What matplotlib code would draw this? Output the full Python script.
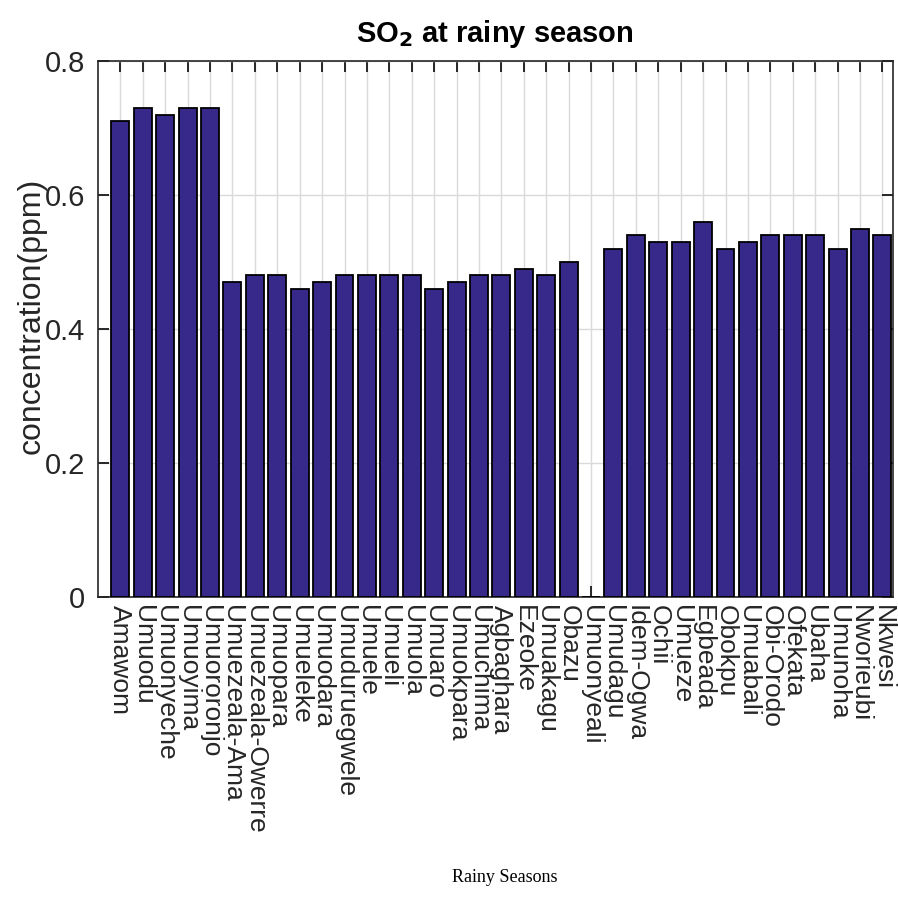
import matplotlib
matplotlib.use("Agg")
import matplotlib.pyplot as plt
import numpy as np

# SO2 concentrations per community, rainy season
sites = ["Amawom", "Umuodu", "Umuonyeche", "Umuoyima", "Umuororonjo",
         "Umuezeala-Ama", "Umuezeala-Owerre", "Umuopara", "Umueleke",
         "Umuodara", "Umuduruegwele", "Umuele", "Umueli", "Umuola",
         "Umuaro", "Umuokpara", "Umuchima", "Agbaghara", "Ezeoke",
         "Umuakagu", "Obazu", "Umuonyeali", "Umudagu", "Idem-Ogwa",
         "Ochii", "Umueze", "Egbeada", "Obokpu", "Umuabali", "Obi-Orodo",
         "Ofekata", "Ubaha", "Umunoha", "Nworieubi", "Nkwesi"]
so2 = [0.71, 0.73, 0.72, 0.73, 0.73,
       0.47, 0.48, 0.48, 0.46, 0.47, 0.48, 0.48, 0.48, 0.48, 0.46, 0.47,
       0.48, 0.48, 0.49, 0.48, 0.50,
       0.0,
       0.52, 0.54, 0.53, 0.53, 0.56, 0.52, 0.53, 0.54, 0.54, 0.54, 0.52,
       0.55, 0.54]

plt.rcParams['font.family'] = ['Liberation Sans', 'DejaVu Sans']
axcol = '#262626'

fig = plt.figure(figsize=(8.98, 9.0), dpi=100)
ax = fig.add_axes([0.1091, 0.3367, 0.8850, 0.5955])

x = np.arange(1, len(sites) + 1)
ax.bar(x, so2, width=0.8, color='#36298A', edgecolor='black',
       linewidth=1.3, zorder=3)

ax.set_xlim(0, len(sites) + 0.46)
ax.set_ylim(0, 0.8)
ax.set_xticks(x)
ax.set_xticklabels(sites, rotation=-90, fontsize=19, color=axcol,
                   va='top', ha='center')
ax.set_yticks([0, 0.2, 0.4, 0.6, 0.8])
ax.set_yticklabels(['0', '0.2', '0.4', '0.6', '0.8'], fontsize=21, color=axcol)

ax.grid(True, color='#DADADA', linewidth=1.0, zorder=0)
ax.set_axisbelow(True)
ax.tick_params(direction='in', length=8, width=1.4, colors=axcol,
               top=True, right=True)
ax.tick_params(axis='y', pad=9)
ax.tick_params(axis='x', pad=6)
for s in ax.spines.values():
    s.set_color(axcol)
    s.set_linewidth(1.2)

ax.set_ylabel('concentration(ppm)', fontsize=23, color=axcol)
ax.yaxis.set_label_coords(-0.064, 0.525)
ax.set_title(r'SO$_\mathbf{2}$ at rainy season', fontsize=21,
             fontweight='bold', pad=14)

fig.text(0.562, 0.025, 'Rainy Seasons', family='Liberation Serif',
         fontsize=13, ha='center', va='center')

fig.savefig('out.png', dpi=100)
